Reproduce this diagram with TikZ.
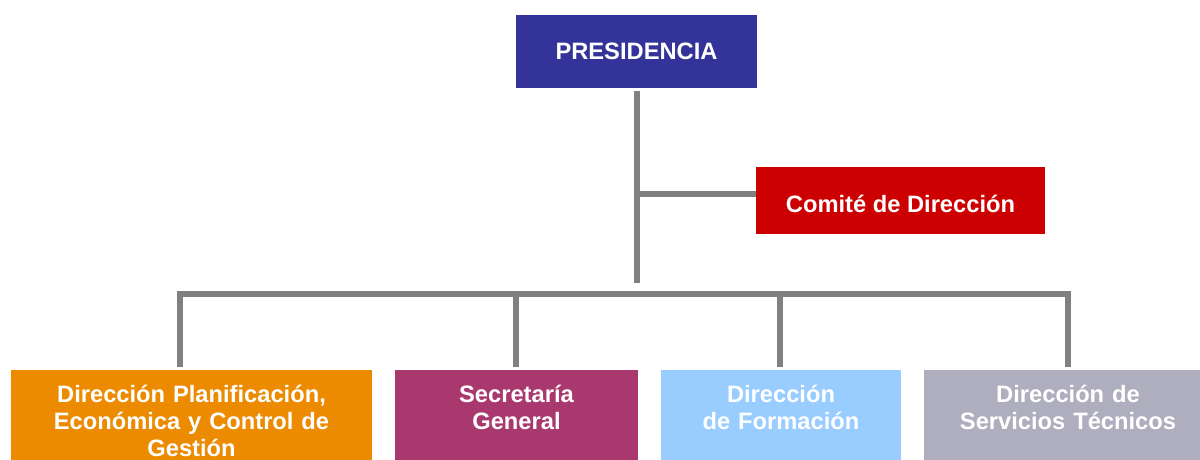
\documentclass[tikz,border=0pt]{standalone}
\usepackage{fontspec}
\setmainfont{Liberation Sans}
\usepackage{xcolor}
\usepackage{tikz}

\definecolor{presblue}{HTML}{333399}
\definecolor{comred}{HTML}{CC0000}
\definecolor{planorange}{HTML}{EC8A00}
\definecolor{secmagenta}{HTML}{A9386E}
\definecolor{formblue}{HTML}{99CCFF}
\definecolor{servgray}{HTML}{AFAEBE}
\definecolor{linegray}{HTML}{808080}

\begin{document}
\begin{tikzpicture}[x=1pt,y=-1pt]
			\tikzstyle{box}=[rectangle,text=white,inner sep=0pt,font=\fontsize{23.7}{27}\selectfont\bfseries]
			\tikzstyle{unit}=[box,anchor=north,align=center,text height=32pt,text depth=100pt]
			\tikzstyle{link}=[draw=linegray,line width=6pt]
			\useasboundingbox (0,0) rectangle (1200,459);
			\node[box,fill=presblue,minimum width=241pt,minimum height=73pt](pres) at (636.5,51.5){PRESIDENCIA};
			\node[box,fill=comred,minimum width=289pt,minimum height=67pt,text height=24pt](comite) at (900.5,200.5){Comité de Dirección};
			\node[unit,fill=planorange,text width=361pt](plan) at (191.5,370){Dirección Planificación,\\Económica y Control de\\Gestión};
			\node[unit,fill=secmagenta,text width=243pt](secr) at (516.5,370){Secretaría\\General};
			\node[unit,fill=formblue,text width=240pt](form) at (781,370){Dirección\\de Formación};
			\node[unit,fill=servgray,text width=288pt](serv) at (1068,370){Dirección de\\Servicios Técnicos};
			\coordinate(trunk) at (636.5,283);
			\coordinate(branch) at (636.5,194);
			\coordinate(d1) at (180,294);
			\coordinate(d2) at (516,294);
			\coordinate(d3) at (780,294);
			\coordinate(d4) at (1068,294);
			\draw[link] ([yshift=-3pt]pres.south) -- (trunk);
			\draw[link] (branch) -- (branch -| comite.west);
			\draw[link,line cap=rect] (d1) -- (d4);
			\draw[link] (d1) -- ([yshift=3pt]d1 |- plan.north);
			\draw[link] (d2) -- ([yshift=3pt]d2 |- secr.north);
			\draw[link] (d3) -- ([yshift=3pt]d3 |- form.north);
			\draw[link] (d4) -- ([yshift=3pt]d4 |- serv.north);
		\end{tikzpicture}
\end{document}
